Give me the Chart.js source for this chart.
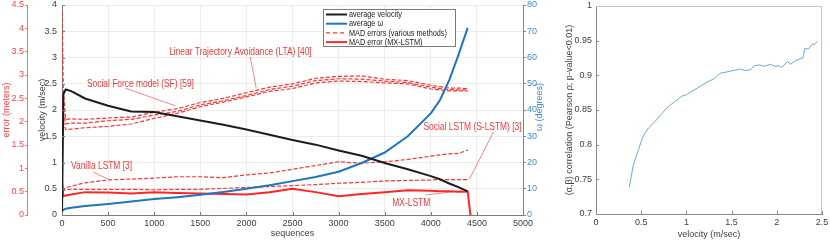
<!DOCTYPE html>
<html>
<head>
<meta charset="utf-8">
<script src="https://cdn.jsdelivr.net/npm/chart.js@4.4.1/dist/chart.umd.min.js"></script>
<style>
  html, body { margin: 0; padding: 0; background: #fff; }
  #wrap { position: relative; width: 830px; height: 242px; }
  #chart-left { position: absolute; left: 0; top: 0; }
  #chart-right { position: absolute; left: 548px; top: 0; }
</style>
</head>
<body>
<div id="wrap">
  <canvas id="chart-left" width="548" height="242"></canvas>
  <canvas id="chart-right" width="282" height="242"></canvas>
</div>
<script>
// Left panel: sequences on x, three y axes (error, velocity, omega)
const sequences = [0, 15, 40, 100, 250, 500, 750, 1000, 1250, 1500, 1750, 2000, 2250, 2500, 2750, 3000, 3250, 3500, 3750, 4000, 4100, 4200, 4300, 4400, 4430];
const avgVelocity = [0, 2.30, 2.39, 2.36, 2.22, 2.08, 1.97, 1.96, 1.88, 1.80, 1.72, 1.63, 1.53, 1.43, 1.34, 1.23, 1.13, 0.99, 0.87, 0.74, 0.68, 0.60, 0.53, 0.45, null];
const avgOmega = [1.5, 2.0, 2.4, 2.8, 3.4, 4.2, 5.1, 6.05, 6.8, 7.7, 8.8, 10.0, 11.3, 12.9, 14.5, 16.5, 19.8, 23.8, 30.0, 38.7, 43.8, 51.4, 61.0, 71.3, null];
const madMxLstm = [0.72, 0.40, 0.42, 0.44, 0.49, 0.48, 0.46, 0.49, 0.47, 0.46, 0.45, 0.44, 0.49, 0.56, 0.49, 0.40, 0.45, 0.49, 0.53, 0.52, 0.51, 0.51, 0.50, 0.50, 0];
const madLta = [4.35, 2.60, 2.05, 2.06, 2.05, 2.08, 2.10, 2.20, 2.28, 2.41, 2.50, 2.62, 2.74, 2.81, 2.93, 2.97, 2.98, 2.91, 2.88, 2.78, 2.75, 2.72, 2.72, 2.71, null];
const madSf = [2.60, 2.20, 1.95, 1.97, 1.97, 2.02, 2.05, 2.14, 2.22, 2.36, 2.45, 2.56, 2.69, 2.76, 2.88, 2.92, 2.91, 2.87, 2.84, 2.74, 2.71, 2.69, 2.68, 2.68, null];
const madOther = [2.40, 2.00, 1.83, 1.84, 1.87, 1.90, 1.95, 2.07, 2.18, 2.32, 2.42, 2.53, 2.65, 2.71, 2.83, 2.87, 2.86, 2.83, 2.81, 2.70, 2.68, 2.66, 2.66, 2.66, null];
const madVanillaLstm = [0.52, 0.55, 0.58, 0.62, 0.69, 0.75, 0.77, 0.79, 0.82, 0.82, 0.80, 0.86, 0.90, 0.98, 1.06, 1.14, 1.11, 1.14, 1.19, 1.26, 1.29, 1.31, 1.32, 1.39, null];
const madSocialLstm = [0.55, 0.52, 0.54, 0.55, 0.55, 0.55, 0.55, 0.54, 0.55, 0.55, 0.57, 0.59, 0.61, 0.63, 0.65, 0.68, 0.70, 0.73, 0.74, 0.75, 0.76, 0.76, 0.76, 0.76, null];

// Right panel: correlation against velocity
const velocityBins = [0.37, 0.41, 0.47, 0.52, 0.58, 0.65, 0.73, 0.79, 0.87, 0.95, 1.00, 1.06, 1.15, 1.24, 1.32, 1.37, 1.45, 1.52, 1.59, 1.65, 1.71, 1.75, 1.81, 1.86, 1.93, 1.98, 2.03, 2.05, 2.12, 2.15, 2.22, 2.29, 2.31, 2.35, 2.39, 2.42, 2.45];
const correlation = [0.739, 0.769, 0.793, 0.812, 0.824, 0.833, 0.845, 0.854, 0.862, 0.870, 0.872, 0.877, 0.884, 0.891, 0.896, 0.903, 0.905, 0.907, 0.909, 0.907, 0.908, 0.914, 0.915, 0.913, 0.916, 0.913, 0.914, 0.911, 0.920, 0.916, 0.922, 0.925, 0.939, 0.938, 0.945, 0.945, 0.949];

// Labels written on the plot, in data units (sequence, error)
const annotations = [
  { text: "Linear Trajectory Avoidance (LTA) [40]", at: [1162, 3.49], align: "left", from: [2041, 3.39], to: [2106, 2.72] },
  { text: "Social Force model (SF) [59]", at: [271, 2.80], align: "left", from: [684, 2.72], to: [1227, 2.34] },
  { text: "Vanilla LSTM [3]", at: [98, 1.05], align: "left", from: [337, 0.92], to: [521, 0.75] },
  { text: "Social LSTM (S-LSTM) [3]", at: [4984, 1.89], align: "right", from: [4680, 1.78], to: [4419, 0.77] },
  { text: "MX-LSTM", at: [3583, 0.26], align: "left", from: [3941, 0.43], to: [4340, 0.52] }
];

const legendItems = [
  { label: "average velocity", color: "#1c1c1c", dash: [], width: 2 },
  { label: "average ω", color: "#1f74bd", dash: [], width: 2 },
  { label: "MAD errors (various methods)", color: "#ff3434", dash: [4, 3], width: 1.3 },
  { label: "MAD error (MX-LSTM)", color: "#ff2a2a", dash: [], width: 2 }
];

const FONT = '"Liberation Sans", Arial, sans-serif';
Chart.defaults.font.family = FONT;
Chart.defaults.font.size = 9;

const RED = "#ff3030";
const pts = (ys) => sequences.map((x, i) => ({ x: x, y: ys[i] })).filter(p => p.y !== null);
const num = (v) => String(Math.round(v * 1000) / 1000);

function serie(label, ys, axis, color, width, dash) {
  return {
    label: label, data: pts(ys), yAxisID: axis,
    borderColor: color, borderWidth: width, borderDash: dash || [],
    pointRadius: 0, tension: 0, fill: false
  };
}

const datasets = [
  serie("average velocity", avgVelocity, "velocity", "#1c1c1c", 2),
  serie("average ω", avgOmega, "omega", "#1f74bd", 2),
  serie("MX-LSTM", madMxLstm, "error", "#ff2525", 2),
  serie("LTA", madLta, "error", RED, 1.2, [4, 2]),
  serie("SF", madSf, "error", RED, 1.2, [4, 2]),
  serie("other", madOther, "error", RED, 1.2, [4, 2]),
  serie("Vanilla LSTM", madVanillaLstm, "error", RED, 1.2, [4, 2]),
  serie("S-LSTM", madSocialLstm, "error", RED, 1.2, [4, 2])
];
// pointer lines from the labels to their curves
for (const a of annotations) {
  datasets.push({
    label: "", data: [{ x: a.from[0], y: a.from[1] }, { x: a.to[0], y: a.to[1] }],
    yAxisID: "error", borderColor: "#ff6464", borderWidth: 0.8, pointRadius: 0
  });
}

// texte compressé horizontalement, pour imiter la police étroite de l'original
function narrowText(ctx, text, x, y, align, squeeze) {
  ctx.save();
  ctx.translate(x, y);
  ctx.scale(squeeze, 1);
  ctx.textAlign = align;
  ctx.fillText(text, 0, 0);
  ctx.restore();
}

// petites graduations tournées vers l'intérieur, façon MATLAB
function innerTicks(ctx, scale, len, color) {
  ctx.save();
  ctx.strokeStyle = color;
  ctx.lineWidth = 1;
  ctx.beginPath();
  for (const t of scale.ticks) {
    const p = Math.round(scale.getPixelForValue(t.value)) + 0.5;
    if (scale.isHorizontal()) {
      ctx.moveTo(p, scale.top);
      ctx.lineTo(p, scale.top - len);
    } else {
      ctx.moveTo(scale.right, p);
      ctx.lineTo(scale.right + len, p);
    }
  }
  ctx.stroke();
  ctx.restore();
}

const overlay = {
  id: "overlay",
  afterDatasetsDraw(chart) {
    const { ctx, chartArea } = chart;
    const x = chart.scales.x, err = chart.scales.error;
    innerTicks(ctx, x, 3, "#7a7a7a");
    innerTicks(ctx, chart.scales.velocity, 3, "#7a7a7a");

    ctx.save();
    ctx.font = "10px " + FONT;
    ctx.fillStyle = "#f03838";
    ctx.textBaseline = "middle";
    for (const a of annotations) {
      narrowText(ctx, a.text, x.getPixelForValue(a.at[0]), err.getPixelForValue(a.at[1]), a.align, 0.84);
    }

    // titre de l'axe ω, lu de bas en haut comme les autres
    ctx.save();
    ctx.font = "9px " + FONT;
    ctx.translate(540, (chartArea.top + chartArea.bottom) / 2 - 3);
    ctx.rotate(-Math.PI / 2);
    ctx.textAlign = "center";
    ctx.fillStyle = "#3d8bd0";
    ctx.fillText("ω (degrees)", 0, 0);
    ctx.restore();

    // légende
    const lx = 323, ly = 9, lw = 132, lh = 37;
    ctx.fillStyle = "#fff";
    ctx.fillRect(lx, ly, lw, lh);
    ctx.strokeStyle = "#7a7a7a";
    ctx.lineWidth = 1;
    ctx.setLineDash([]);
    ctx.strokeRect(lx + 0.5, ly + 0.5, lw, lh);
    ctx.font = "9.5px " + FONT;
    legendItems.forEach((item, i) => {
      const y = ly + 5.5 + i * 9.2;
      ctx.strokeStyle = item.color;
      ctx.lineWidth = item.width;
      ctx.setLineDash(item.dash);
      ctx.beginPath();
      ctx.moveTo(lx + 3, y);
      ctx.lineTo(lx + 24, y);
      ctx.stroke();
      ctx.fillStyle = "#222";
      narrowText(ctx, item.label, lx + 26, y, "left", 0.77);
    });
    ctx.restore();
  }
};

const fixY = (w) => (s) => { s.width = w; s.paddingTop = 0; s.paddingBottom = 0; };
const fixX = (h) => (s) => { s.height = h; s.paddingLeft = 0; s.paddingRight = 0; };

new Chart(document.querySelector("#chart-left"), {
  type: "line",
  data: { datasets: datasets },
  options: {
    responsive: false, animation: false, devicePixelRatio: 1,
    layout: { padding: { top: 5, right: 0, bottom: 0, left: 0 } },
    plugins: { legend: { display: false }, tooltip: { enabled: false } },
    scales: {
      x: {
        type: "linear", min: 0, max: 5000,
        ticks: { stepSize: 500, callback: num, padding: 3, color: "#404040", maxRotation: 0, autoSkip: false },
        grid: { color: "#ececec", drawTicks: false },
        border: { color: "#7a7a7a" },
        title: { display: true, text: "sequences", color: "#404040", padding: { top: 0, bottom: 3 } },
        afterFit: fixX(27)
      },
      error: {
        type: "linear", position: "left", weight: 1, min: 0, max: 4.5,
        ticks: { stepSize: 0.5, callback: num, color: "#ff4545", padding: 1 },
        grid: { drawOnChartArea: false, tickLength: 2, tickColor: "#ff6a6a" },
        border: { color: "#ff6a6a" },
        title: { display: true, text: "error (meters)", color: "#ff4545", padding: { top: 1, bottom: 0 } },
        afterFit: fixY(27)
      },
      velocity: {
        type: "linear", position: "left", weight: 0, min: 0, max: 4,
        ticks: { stepSize: 0.5, callback: num, color: "#404040", padding: 5 },
        grid: { color: "#ececec", drawTicks: false },
        border: { color: "#7a7a7a" },
        title: { display: true, text: "velocity (m/sec)", color: "#404040", padding: { top: 10, bottom: 0 } },
        afterFit: fixY(35)
      },
      omega: {
        type: "linear", position: "right", min: 0, max: 80,
        ticks: { stepSize: 10, callback: num, color: "#3d8bd0", padding: 1 },
        grid: { drawOnChartArea: false, tickLength: 3, tickColor: "#4b93d1" },
        border: { color: "#4b93d1" },
        afterFit: fixY(25)
      }
    }
  },
  plugins: [overlay]
});

const boxPlugin = {
  id: "box",
  afterDraw(chart) {
    const { ctx, chartArea: a } = chart;
    innerTicks(ctx, chart.scales.x, 3, "#8a8a8a");
    innerTicks(ctx, chart.scales.y, 3, "#8a8a8a");
    ctx.save();
    ctx.strokeStyle = "#c4c4c4";
    ctx.lineWidth = 1;
    ctx.beginPath();
    ctx.moveTo(a.left, a.top + 0.5);
    ctx.lineTo(a.right - 0.5, a.top + 0.5);
    ctx.lineTo(a.right - 0.5, a.bottom);
    ctx.stroke();
    ctx.restore();
  }
};

new Chart(document.querySelector("#chart-right"), {
  type: "line",
  data: {
    datasets: [{
      label: "correlation",
      data: velocityBins.map((v, i) => ({ x: v, y: correlation[i] })),
      borderColor: "#6ea7dc", borderWidth: 1, pointRadius: 0, tension: 0, fill: false
    }]
  },
  options: {
    responsive: false, animation: false, devicePixelRatio: 1,
    layout: { padding: { top: 6, right: 8, bottom: 0, left: 0 } },
    plugins: { legend: { display: false }, tooltip: { enabled: false } },
    scales: {
      x: {
        type: "linear", min: 0, max: 2.5,
        ticks: { stepSize: 0.5, callback: num, padding: 3, color: "#404040", maxRotation: 0 },
        grid: { drawOnChartArea: false, drawTicks: false },
        border: { color: "#8a8a8a" },
        title: { display: true, text: "velocity (m/sec)", color: "#404040", padding: { top: 0, bottom: 2 } },
        afterFit: fixX(28)
      },
      y: {
        type: "linear", min: 0.7, max: 1,
        ticks: { stepSize: 0.05, callback: num, padding: 4, color: "#404040" },
        grid: { drawOnChartArea: false, drawTicks: false },
        border: { color: "#8a8a8a" },
        title: { display: true, text: "(α,β) correlation (Pearson ρ; p-value<0.01)", color: "#404040", padding: { top: 16, bottom: 0 } },
        afterFit: fixY(48)
      }
    }
  },
  plugins: [boxPlugin]
});
</script>
</body>
</html>
